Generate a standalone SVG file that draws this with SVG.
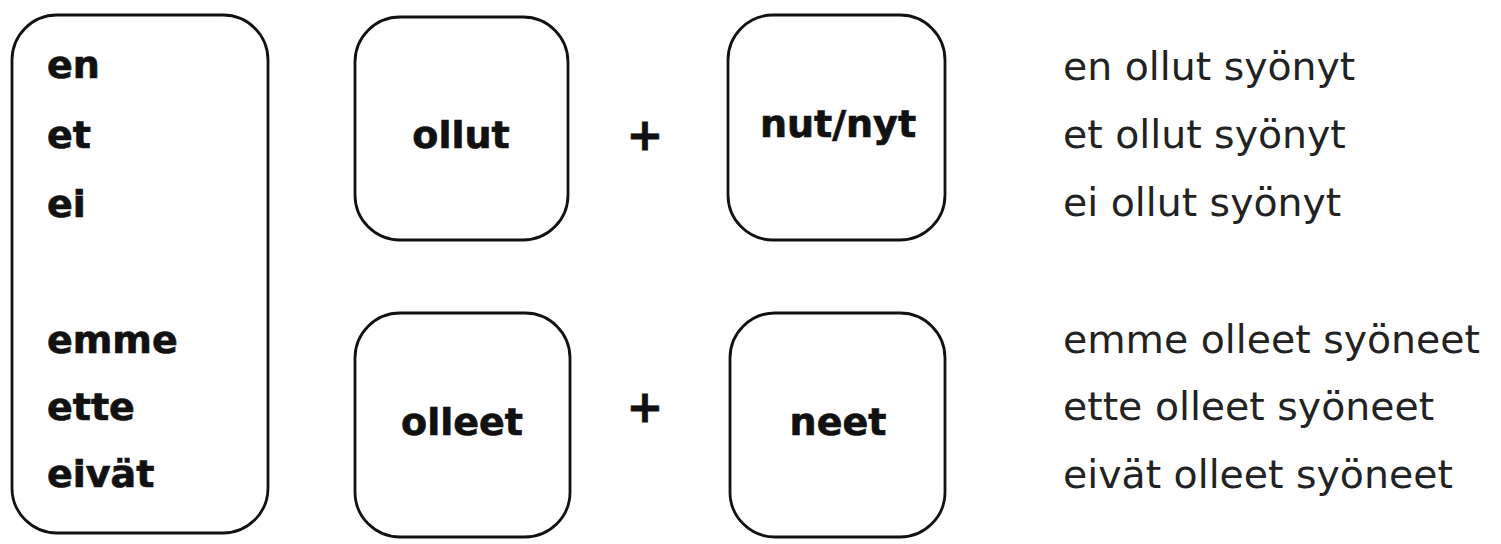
<svg xmlns="http://www.w3.org/2000/svg" width="1501" height="544" viewBox="0 0 1501 544">
<style>
.box{fill:#fff;stroke:#111;stroke-width:2.8}
.b{font-family:"DejaVu Sans",sans-serif;font-weight:bold;font-size:38px;fill:#111;stroke:#111;stroke-width:0.7}
.c{text-anchor:middle}
.p{font-family:"DejaVu Sans",sans-serif;font-weight:bold;font-size:44px;fill:#111;stroke:#111;stroke-width:0.8;text-anchor:middle}
.r{font-family:"DejaVu Sans",sans-serif;font-size:39.4px;fill:#222}
</style>
<rect width="1501" height="544" fill="#fff"/>
<g id="pronouns">
<rect class="box" x="12" y="15" width="256" height="518" rx="45"/>
<text class="b" x="47" y="78">en</text>
<text class="b" x="47" y="148">et</text>
<text class="b" x="47" y="217">ei</text>
<text class="b" x="47" y="353">emme</text>
<text class="b" x="47" y="420">ette</text>
<text class="b" x="47" y="487">eivät</text>
</g>
<g id="ollut">
<rect class="box" x="355" y="17" width="213" height="223" rx="45"/>
<text class="b c" x="461" y="148">ollut</text>
</g>
<g id="plus1"><text class="p" x="645" y="150">+</text></g>
<g id="nutnyt">
<rect class="box" x="728" y="15" width="217" height="225" rx="45"/>
<text class="b c" x="838" y="137">nut/nyt</text>
</g>
<g id="olleet">
<rect class="box" x="355" y="313" width="215" height="224" rx="45"/>
<text class="b c" x="462" y="435">olleet</text>
</g>
<g id="plus2"><text class="p" x="645" y="422">+</text></g>
<g id="neet">
<rect class="box" x="730" y="313" width="215" height="224" rx="45"/>
<text class="b c" x="838" y="435">neet</text>
</g>
<g id="examples">
<text class="r" x="1063" y="80">en ollut syönyt</text>
<text class="r" x="1063" y="148">et ollut syönyt</text>
<text class="r" x="1063" y="216">ei ollut syönyt</text>
<text class="r" x="1063" y="353">emme olleet syöneet</text>
<text class="r" x="1063" y="420">ette olleet syöneet</text>
<text class="r" x="1063" y="488">eivät olleet syöneet</text>
</g>
<g id="connectors"></g>
</svg>
